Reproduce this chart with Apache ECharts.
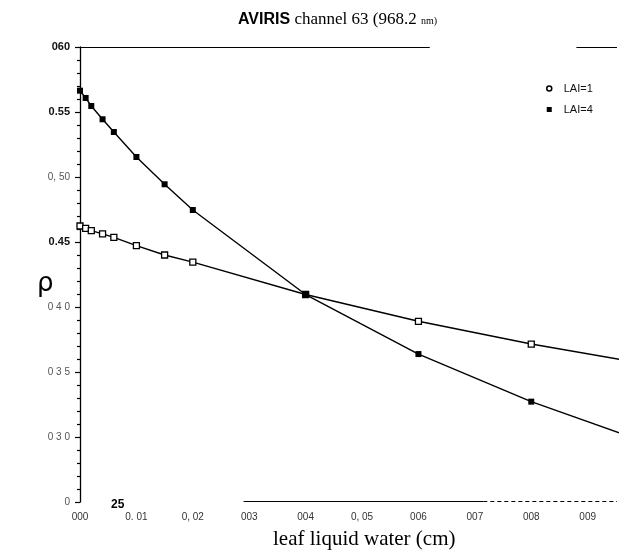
<!DOCTYPE html>
<html>
<head>
<meta charset="utf-8">
<script src="https://cdn.jsdelivr.net/npm/echarts@6/dist/echarts.min.js"></script>
<style>html,body{margin:0;padding:0;background:#fff}#c{width:620px;height:560px}</style>
</head>
<body>
<div id="c"></div>
<script>
// leaf liquid water (cm)
var waterX = [0, 0.001, 0.002, 0.004, 0.006, 0.010, 0.015, 0.020, 0.040, 0.060, 0.080, 0.100];
// reflectance rho, LAI = 1
var lai1 = [0.4623, 0.4605, 0.4587, 0.4562, 0.4535, 0.4472, 0.4400, 0.4345, 0.4096, 0.3890, 0.3715, 0.3565];
// reflectance rho, LAI = 4
var lai4 = [0.5664, 0.5608, 0.5546, 0.5444, 0.5346, 0.5154, 0.4944, 0.4746, 0.4096, 0.3638, 0.3272, 0.2965];
// tick labels as printed
var xTickLabels = ['000', '0. 01', '0, 02', '003', '004', '0, 05', '006', '007', '008', '009', ''];
var yTickLabels = ['0', '0 3 0', '0 3 5', '0 4 0', '0.45', '0, 50', '0.55', '060'];
var yTickDark = [false, false, false, false, true, false, true, true];
var xAxisMax = 0.0952; // visible right edge of the plot

function pts(ys) {
  return waterX.map(function (x, i) {
    var p = { value: [x, ys[i]] };
    if (i === waterX.length - 1) { p.symbol = 'none'; }
    return p;
  });
}

var chart = echarts.init(document.getElementById('c'), null, { renderer: 'canvas' });
chart.setOption({
  animation: false,
  backgroundColor: '#ffffff',
  title: [
    {
      left: 233, top: 6,
      text: '{a|AVIRIS}{b| channel 63 (968.2 }{c|nm)}',
      textStyle: {
        fontWeight: 'normal',
        rich: {
          a: { fontFamily: 'Liberation Sans Narrow, Liberation Sans', fontSize: 16, color: '#000', fontWeight: 'bold' },
          b: { fontFamily: 'Liberation Serif', fontSize: 17, color: '#000', fontWeight: 'normal' },
          c: { fontFamily: 'Liberation Serif', fontSize: 10, color: '#000', fontWeight: 'normal', padding: [4, 0, 0, 0] }
        }
      }
    },
    {
      left: 268, top: 524,
      text: 'leaf liquid water (cm)',
      textStyle: { fontFamily: 'Liberation Serif', fontSize: 21, color: '#000', fontWeight: 'normal' }
    },
    {
      left: 32, top: 266,
      text: 'ρ',
      textStyle: { fontFamily: 'DejaVu Sans', fontSize: 26, color: '#000', fontWeight: 'normal' }
    },
    {
      left: 106, top: 494,
      text: '25',
      textStyle: { fontFamily: 'Liberation Sans', fontSize: 12, color: '#000', fontWeight: 'bold' }
    }
  ],
  legend: {
    orient: 'vertical',
    left: 541, top: 78,
    itemWidth: 5, itemHeight: 5, itemGap: 10,
    textStyle: { fontFamily: 'Liberation Sans', fontSize: 11, color: '#111', padding: [0, 0, 0, 7] },
    data: [
      { name: 'LAI=1', icon: 'circle', itemStyle: { color: '#fff', borderColor: '#000', borderWidth: 1.5 } },
      { name: 'LAI=4', icon: 'rect', itemStyle: { color: '#000' } }
    ]
  },
  grid: { left: 80, right: 0, top: 47, bottom: 58, containLabel: false },
  xAxis: {
    type: 'value', min: 0, max: xAxisMax, interval: 0.01,
    axisLine: { show: false },
    axisTick: { show: false },
    splitLine: { show: false },
    axisLabel: {
      margin: 10, fontFamily: 'Liberation Sans', fontSize: 10, color: '#333',
      formatter: function (v) { var i = Math.round(v / 0.01); return (Math.abs(v - i * 0.01) < 1e-6) ? (xTickLabels[i] || '') : ''; }
    }
  },
  yAxis: {
    type: 'value', min: 0.25, max: 0.60, interval: 0.05,
    axisLine: { show: true, lineStyle: { color: '#000', width: 1.3 } },
    axisTick: { show: true, length: 5, lineStyle: { color: '#000', width: 1.2 } },
    minorTick: { show: true, splitNumber: 5, length: 3, lineStyle: { color: '#000', width: 1.2 } },
    splitLine: { show: false },
    axisLabel: {
      margin: 10, fontFamily: 'Liberation Sans', fontSize: 10,
      formatter: function (v) {
        var i = Math.round((v - 0.25) / 0.05);
        return (yTickDark[i] ? '{d|' : '{g|') + yTickLabels[i] + '}';
      },
      rich: {
        d: { fontFamily: 'Liberation Sans', fontSize: 11, color: '#111', fontWeight: 'bold' },
        g: { fontFamily: 'Liberation Sans', fontSize: 10, color: '#555' }
      }
    }
  },
  series: [
    {
      name: 'LAI=1', type: 'line', data: pts(lai1),
      smooth: false, clip: true,
      symbol: 'rect', symbolSize: 6,
      itemStyle: { color: '#fff', borderColor: '#000', borderWidth: 1.3 },
      lineStyle: { color: '#000', width: 1.4 },
      markLine: {
        silent: true, symbol: 'none', label: { show: false },
        lineStyle: { color: '#000', width: 1.2, type: 'solid' },
        data: [
          [{ coord: [0, 0.60] }, { coord: [0.062, 0.60] }],
          [{ coord: [0.088, 0.60] }, { coord: [xAxisMax, 0.60] }],
          [{ coord: [0.029, 0.2505] }, { coord: [0.0715, 0.2505] }]
        ]
      }
    },
    {
      name: 'LAI=4', type: 'line', data: pts(lai4),
      smooth: false, clip: true,
      symbol: 'rect', symbolSize: 6,
      itemStyle: { color: '#000' },
      lineStyle: { color: '#000', width: 1.4 },
      markLine: {
        silent: true, symbol: 'none', label: { show: false },
        lineStyle: { color: '#000', width: 1.2, type: [4, 3] },
        data: [
          [{ coord: [0.0715, 0.2505] }, { coord: [xAxisMax, 0.2505] }]
        ]
      }
    }
  ]
});
</script>
</body>
</html>
